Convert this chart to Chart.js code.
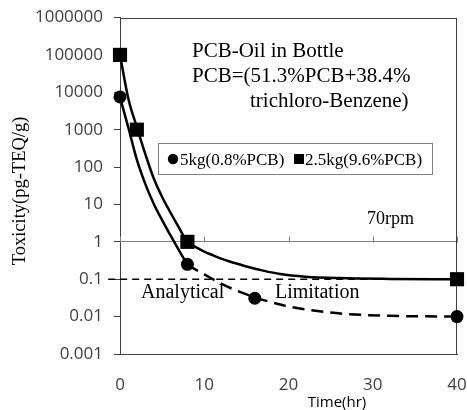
<!DOCTYPE html>
<html>
<head>
<meta charset="utf-8">
<script src="https://cdn.jsdelivr.net/npm/chart.js@4.4.1/dist/chart.umd.min.js"></script>
<style>
html,body{margin:0;padding:0;background:#fff;}
#wrap{width:467px;height:410px;}
</style>
</head>
<body>
<div id="wrap"><canvas id="c" width="467" height="410"></canvas></div>
<script>
// ---- data ----
const xTickValues = [0, 10, 20, 30, 40];
const yTickValues = [0.001, 0.01, 0.1, 1, 10, 100, 1000, 10000, 100000, 1000000];
const yTickLabels = ['0.001', '0.01', '0.1', '1', '10', '100', '1000', '10000', '100000', '1000000'];

const seriesNames = ['5kg(0.8%PCB)', '2.5kg(9.6%PCB)'];

// measured points
const circleX = [0, 8, 16, 40];
const circleY = [7500, 0.25, 0.031, 0.01];
const squareX = [0, 2, 8, 40];
const squareY = [100000, 1000, 1, 0.1];

// fitted curves
const squareFitX = [0, 1, 2, 3, 4, 5, 6, 7, 8, 9, 10, 11, 12, 13.5, 15, 17, 19, 22, 26, 32, 40];
const squareFitY = [100000, 6600, 1170, 224, 50, 15.8, 6.0, 2.4, 1, 0.72, 0.55, 0.44, 0.355, 0.275, 0.22, 0.17, 0.138, 0.117, 0.107, 0.102, 0.1];
const circleFitX = [0, 1, 2, 3, 4, 5, 6, 7, 8];
const circleFitY = [7400, 1120, 158, 35.5, 10.5, 3.8, 1.48, 0.59, 0.24];
const circleTailX = [8, 10, 12, 14, 16, 18, 20, 23, 27, 32, 40];
const circleTailY = [0.24, 0.135, 0.076, 0.048, 0.033, 0.024, 0.0186, 0.0145, 0.0117, 0.0105, 0.01];

// analytical limitation
const limitX = [-1.4, 40];
const limitY = [0.1, 0.1];

const pts = (xs, ys) => xs.map((x, i) => ({x: x, y: ys[i]}));

const SERIF = '"Liberation Serif", "Times New Roman", serif';

const decor = {
  id: 'decor',
  beforeDatasetsDraw(chart) {
    const {ctx, chartArea: a, scales} = chart;
    ctx.save();
    ctx.strokeStyle = '#404040';
    ctx.lineWidth = 1;
    ctx.strokeRect(Math.round(a.left) + 0.5, Math.round(a.top) + 0.5, Math.round(a.right - a.left) - 1, Math.round(a.bottom - a.top) - 1);
    // x tick marks on the y=1 crossing line
    const y1 = Math.round(scales.y.getPixelForValue(1)) + 0.5;
    ctx.strokeStyle = '#808080';
    ctx.beginPath();
    xTickValues.forEach(v => {
      const px = Math.round(scales.x.getPixelForValue(v)) + 0.5;
      ctx.moveTo(px, y1);
      ctx.lineTo(px, y1 - 6);
    });
    ctx.stroke();
    ctx.restore();
  },
  afterDraw(chart) {
    const {ctx} = chart;
    ctx.save();
    ctx.fillStyle = '#000';
    ctx.textBaseline = 'alphabetic';
    ctx.textAlign = 'left';
    ctx.font = '21px ' + SERIF;
    ctx.fillText('PCB-Oil in Bottle', 192, 57);
    ctx.fillText('PCB=(51.3%PCB+38.4%', 192, 82);
    ctx.fillText('trichloro-Benzene)', 250, 107);
    ctx.font = '20px ' + SERIF;
    ctx.fillText('Analytical', 141, 298);
    ctx.fillText('Limitation', 275, 298);
    ctx.font = '18px ' + SERIF;
    ctx.fillText('70rpm', 367, 224);

    // axis titles
    ctx.font = '15px "Open Sans", sans-serif';
    ctx.textAlign = 'center';
    ctx.fillText('Time(hr)', 337, 407);
    ctx.save();
    ctx.translate(25, 191);
    ctx.rotate(-Math.PI / 2);
    ctx.font = '18.5px ' + SERIF;
    ctx.fillText('Toxicity(pg-TEQ/g)', 0, 0);
    ctx.restore();

    // legend box
    ctx.fillStyle = '#fff';
    ctx.fillRect(158, 143, 274, 31);
    ctx.strokeStyle = '#808080';
    ctx.lineWidth = 1;
    ctx.strokeRect(158.5, 143.5, 274, 31);
    ctx.fillStyle = '#000';
    ctx.beginPath();
    ctx.arc(173, 159, 5.2, 0, Math.PI * 2);
    ctx.fill();
    ctx.fillRect(294, 154, 10, 10);
    ctx.textAlign = 'left';
    ctx.font = '17px ' + SERIF;
    ctx.fillText(seriesNames[0], 180, 165);
    ctx.fillText(seriesNames[1], 305, 165);
    ctx.restore();
  }
};

new Chart(document.getElementById('c'), {
  type: 'scatter',
  data: {
    datasets: [
      {label: seriesNames[1], data: pts(squareX, squareY), showLine: false, pointStyle: 'rect', pointRadius: 10, pointHoverRadius: 10, backgroundColor: '#000', borderColor: '#000', borderWidth: 0, clip: false, order: 0},
      {label: seriesNames[0], data: pts(circleX, circleY), showLine: false, pointStyle: 'circle', pointRadius: 6.5, pointHoverRadius: 6.5, backgroundColor: '#000', borderColor: '#000', borderWidth: 0, clip: false, order: 0},
      {label: 'fit2', data: pts(squareFitX, squareFitY), showLine: true, pointRadius: 0, borderColor: '#000', borderWidth: 2.5, cubicInterpolationMode: 'monotone', clip: false, order: 1},
      {label: 'fit1', data: pts(circleFitX, circleFitY), showLine: true, pointRadius: 0, borderColor: '#000', borderWidth: 2.5, cubicInterpolationMode: 'monotone', clip: false, order: 1},
      {label: 'fit1tail', data: pts(circleTailX, circleTailY), showLine: true, pointRadius: 0, borderColor: '#000', borderWidth: 2.5, borderDash: [12, 7], cubicInterpolationMode: 'monotone', clip: false, order: 1},
      {label: 'limit', data: pts(limitX, limitY), showLine: true, pointRadius: 0, borderColor: '#000', borderWidth: 1.5, borderDash: [7, 5], clip: false, order: 2}
    ]
  },
  options: {
    responsive: false,
    animation: false,
    devicePixelRatio: 1,
    layout: {padding: {left: 0, right: 8, top: 17.5, bottom: 0}},
    plugins: {legend: {display: false}, tooltip: {enabled: false}},
    scales: {
      x: {
        type: 'linear',
        min: 0, max: 40,
        afterBuildTicks: s => { s.ticks = xTickValues.map(v => ({value: v})); },
        afterFit: s => { s.height = 56; s.paddingLeft = 0; s.paddingRight = 0; },
        grid: {display: false, drawTicks: false},
        border: {display: true, color: '#404040', width: 1},
        ticks: {padding: 21, maxRotation: 0, autoSkip: false, color: '#404040', font: {family: 'Open Sans', size: 17}}
      },
      y: {
        type: 'logarithmic',
        min: 0.001, max: 1000000,
        afterBuildTicks: s => { s.ticks = yTickValues.map(v => ({value: v})); },
        afterFit: s => { s.width = 120; s.paddingTop = 0; s.paddingBottom = 0; },
        grid: {
          drawOnChartArea: true,
          color: c => (c.tick && c.tick.value === 1) ? '#808080' : 'rgba(0,0,0,0)',
          tickColor: '#404040',
          tickLength: 6
        },
        border: {display: true, color: '#404040', width: 1},
        ticks: {
          padding: 11,
          autoSkip: false,
          color: '#404040',
          font: {family: 'Open Sans', size: 17},
          callback: (v, i) => yTickLabels[i]
        }
      }
    }
  },
  plugins: [decor]
});
</script>
</body>
</html>
